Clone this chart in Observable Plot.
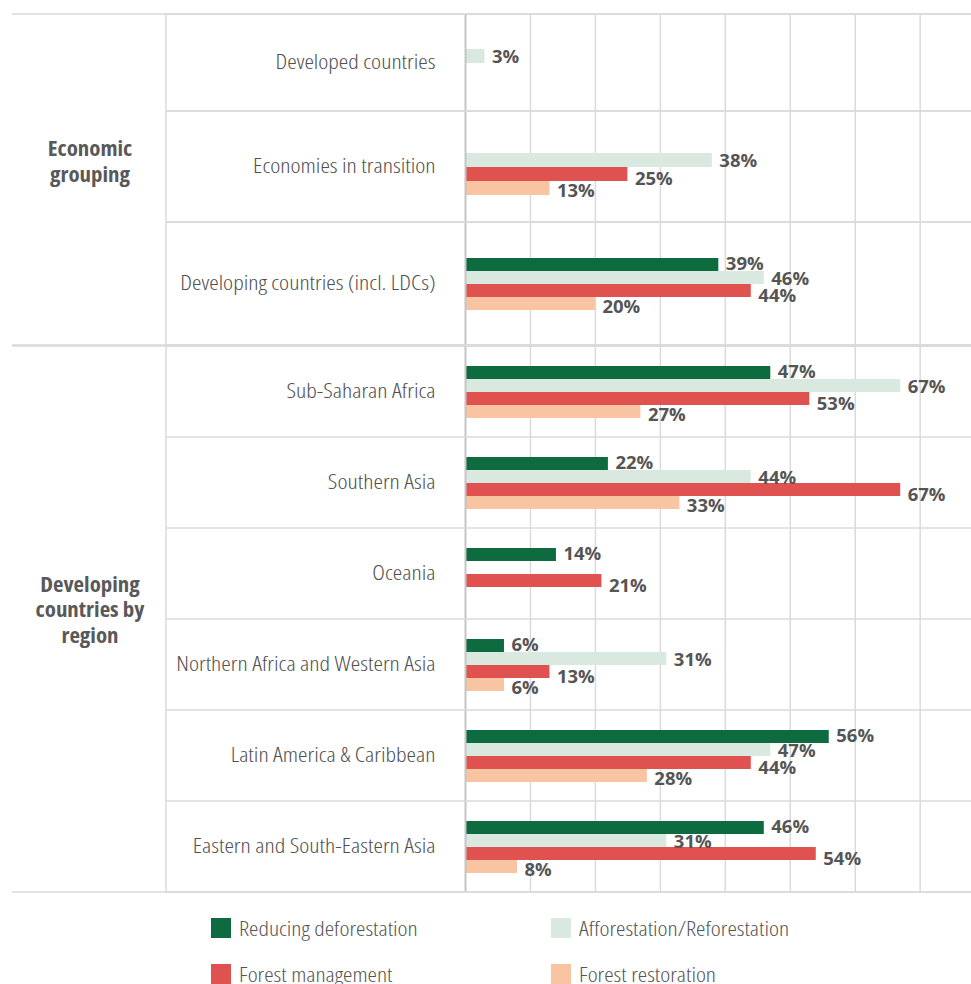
<!DOCTYPE html>
<html>
<head>
<meta charset="utf-8">
<script src="https://cdn.jsdelivr.net/npm/d3@7"></script>
<script src="https://cdn.jsdelivr.net/npm/@observablehq/plot@0.6"></script>
<style>
  body { margin: 0; background: #fff; }
  #chart { position: relative; width: 971px; }
  #chart svg { display: block; }
  #overlay { position: absolute; left: 0; top: 0; pointer-events: none; }
  .cond { font-family: 'Open Sans', Roboto, sans-serif; font-stretch: condensed; }
  .legend {
    display: grid;
    grid-template-columns: 340px 340px;
    row-gap: 26px;
    padding-left: 211px;
    padding-top: 25px;
    font-size: 20px;
    font-weight: 300;
    color: #555555;
  }
  .legend .item { display: flex; align-items: center; height: 20px; white-space: nowrap; }
  .legend .sw { width: 20px; height: 20px; margin-right: 8px; flex: none; }
  .legend .tx { display: inline-block; transform: scaleX(1.19); transform-origin: left center; }
</style>
</head>
<body>
<div id="chart"></div>
<script>
// ---- data ----
const economicGroups = ["Developed countries", "Economies in transition", "Developing countries (incl. LDCs)"];
const regions = ["Sub-Saharan Africa", "Southern Asia", "Oceania", "Northern Africa and Western Asia", "Latin America & Caribbean", "Eastern and South-Eastern Asia"];
const groupLabels = [["Economic", "grouping"], ["Developing", "countries by", "region"]];
const series = ["Reducing deforestation", "Afforestation/Reforestation", "Forest management", "Forest restoration"];
const seriesColors = ["#0e6b3f", "#d9e9e0", "#e0524f", "#f9c4a1"];
// values in category order: economicGroups then regions (null = no bar)
const reducingDeforestation = [null, null, 39, 47, 22, 14, 6, 56, 46];
const afforestation         = [3, 38, 46, 67, 44, null, 31, 47, 31];
const forestManagement      = [null, 25, 44, 53, 67, 21, 13, 44, 54];
const forestRestoration     = [null, 13, 20, 27, 33, null, 6, 28, 8];
const gridTicks = [10, 20, 30, 40, 50, 60, 70];

// ---- build table ----
const allCats = economicGroups.concat(regions);
const seriesValues = [reducingDeforestation, afforestation, forestManagement, forestRestoration];
const rows = [];
allCats.forEach((c, i) => {
  series.forEach((s, j) => {
    const v = seriesValues[j][i];
    if (v != null) rows.push({category: c, series: s, value: v});
  });
});

const labelFont = "'Open Sans', Roboto, sans-serif";
const valueFont = "'Open Sans', 'Noto Sans', sans-serif";
const textColor = "#595959";
const lineColor = "#dadada";
// vertical nudge of value labels per series (label placement style)
const labelNudge = [-1, 1, 5, 3];

function makePlot(cats, height, marginTop, barH) {
  const data = rows.filter(d => cats.includes(d.category));
  const rowH = (height - marginTop) / cats.length;
  const padOuter = (rowH / barH - series.length) / 2;
  const valueMarks = series.map((s, j) => Plot.text(data.filter(d => d.series === s), {
    x: "value", y: "series", fy: "category",
    text: d => d.value + "%",
    textAnchor: "start", dx: 7, dy: labelNudge[j],
    fontFamily: valueFont, fontSize: 18.5, fontWeight: "bold", fill: "#555555"
  }));
  const plot = Plot.plot({
    width: 971,
    height,
    marginTop,
    marginBottom: 0,
    marginLeft: 465,
    marginRight: 0,
    style: {background: "transparent", overflow: "visible"},
    x: {domain: [0, 77.9], axis: null},
    y: {domain: series, axis: null, paddingInner: 0, paddingOuter: padOuter},
    fy: {domain: cats, axis: null, padding: 0},
    color: {domain: series, range: seriesColors},
    marks: [
      Plot.ruleX(gridTicks, {stroke: lineColor, strokeWidth: 1.5}),
      Plot.barX(data, {x: "value", y: "series", fy: "category", fill: "series"}),
      Plot.text(cats, {
        fy: d => d, text: d => d,
        frameAnchor: "left", textAnchor: "end", dx: -30,
        fontFamily: labelFont, fontSize: 20, fontWeight: 300, fill: "#505050"
      }),
      ...valueMarks,
      Plot.ruleX([0], {stroke: "#c4c4c4", strokeWidth: 2})
    ]
  });
  d3.select(plot).selectAll('g[aria-label="text"]').filter((d, i) => i === 0)
    .attr("class", "catlabels").style("font-stretch", "condensed");
  return plot;
}

// widen condensed glyphs slightly (after the text is in the document)
function widen(selection, factor) {
  selection.each(function () {
    const w = this.getComputedTextLength();
    if (w > 0) d3.select(this).attr("textLength", w * factor).attr("lengthAdjust", "spacingAndGlyphs");
  });
}

// layout of the stacked panels
const panels = [
  {cats: [economicGroups[0]], height: 111, marginTop: 14, barH: 14, group: 0},
  {cats: [economicGroups[1]], height: 111, marginTop: 0, barH: 14, group: 0},
  {cats: [economicGroups[2]], height: 123, marginTop: 0, barH: 14, group: 0},
  {cats: regions, height: 548, marginTop: 0, barH: 13.3, group: 1}
];

const chart = document.getElementById("chart");
const plots = panels.map(p => {
  const pl = makePlot(p.cats, p.height, p.marginTop, p.barH);
  chart.appendChild(pl);
  widen(d3.select(pl).selectAll("g.catlabels text"), 1.2);
  return pl;
});

// legend
const legend = document.createElement("div");
legend.className = "legend cond";
series.forEach((s, i) => {
  const item = document.createElement("div");
  item.className = "item";
  const sw = document.createElement("span");
  sw.className = "sw";
  sw.style.background = seriesColors[i];
  const tx = document.createElement("span");
  tx.className = "tx";
  tx.textContent = s;
  item.appendChild(sw);
  item.appendChild(tx);
  legend.appendChild(item);
});
chart.appendChild(legend);

// overlay: table lines and group labels, positioned from each panel's fy scale
const chartTop = chart.getBoundingClientRect().top;
const overlay = d3.select(chart).append("svg")
  .attr("id", "overlay")
  .attr("width", 971)
  .attr("height", chart.getBoundingClientRect().height);
const lines = overlay.append("g").attr("stroke", lineColor).attr("stroke-width", 1.5);
const groupExtent = [[Infinity, -Infinity], [Infinity, -Infinity]];
panels.forEach((p, k) => {
  const pl = plots[k];
  const off = pl.getBoundingClientRect().top - chartTop;
  const fy = pl.scale("fy");
  const tops = p.cats.map(c => fy.apply(c) + off);
  const bottom = tops[tops.length - 1] + fy.bandwidth;
  const ext = groupExtent[p.group];
  ext[0] = Math.min(ext[0], tops[0]);
  ext[1] = Math.max(ext[1], bottom);
  tops.forEach(t => lines.append("line").attr("x1", 166).attr("x2", 971).attr("y1", t).attr("y2", t));
  lines.append("line").attr("x1", 166).attr("x2", 971).attr("y1", bottom).attr("y2", bottom);
});
groupExtent.forEach((ext, gi) => {
  lines.append("line").attr("x1", 12).attr("x2", 971).attr("y1", ext[0]).attr("y2", ext[0]);
  lines.append("line").attr("x1", 12).attr("x2", 971).attr("y1", ext[1]).attr("y2", ext[1]);
  lines.append("line").attr("x1", 166).attr("x2", 166).attr("y1", ext[0]).attr("y2", ext[1]);
  const label = groupLabels[gi];
  const lh = 25.5;
  const cy = (ext[0] + ext[1]) / 2 + (gi === 0 ? -18 : -9);
  label.forEach((line, i) => {
    const t = overlay.append("text")
      .attr("text-anchor", "middle")
      .attr("fill", textColor)
      .attr("font-family", labelFont)
      .attr("font-weight", "bold")
      .attr("font-size", 21)
      .style("font-stretch", "condensed")
      .attr("x", 90)
      .attr("y", cy + (i - (label.length - 1) / 2) * lh)
      .attr("dy", "0.35em")
      .text(line);
    widen(t, 1.09);
  });
});
</script>
</body>
</html>
